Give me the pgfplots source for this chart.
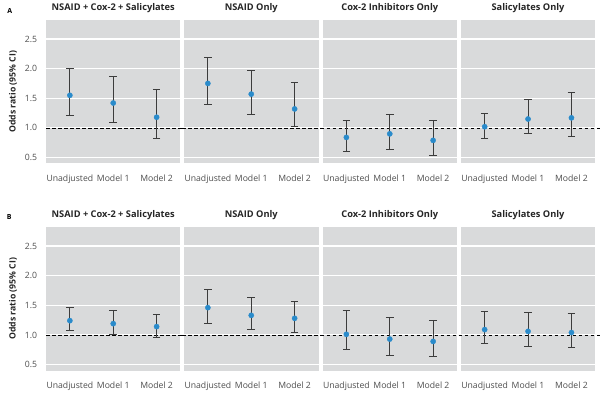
\documentclass[border=0pt]{standalone}
\usepackage{fontspec}
\setmainfont{Open Sans}
\usepackage{pgfplots}
\usepackage{pgfplotstable}
\pgfplotsset{compat=1.18}
\definecolor{panelgray}{HTML}{D9DADB}
\definecolor{dotblue}{HTML}{2A8BCB}
\definecolor{errgray}{HTML}{3C3C3C}
\definecolor{ticklab}{HTML}{4D4D4D}

% Row A
\pgfplotstableread{
x y lo hi
1 1.55 1.21 2.01
2 1.42 1.10 1.86
3 1.18 0.83 1.65
}\tAa
\pgfplotstableread{
x y lo hi
1 1.75 1.40 2.19
2 1.57 1.23 1.97
3 1.32 1.03 1.77
}\tAb
\pgfplotstableread{
x y lo hi
1 0.84 0.61 1.12
2 0.90 0.645 1.22
3 0.79 0.54 1.12
}\tAc
\pgfplotstableread{
x y lo hi
1 1.02 0.83 1.25
2 1.15 0.91 1.48
3 1.17 0.86 1.59
}\tAd
% Row B
\pgfplotstableread{
x y lo hi
1 1.24 1.07 1.46
2 1.19 1.00 1.41
3 1.14 0.955 1.35
}\tBa
\pgfplotstableread{
x y lo hi
1 1.46 1.20 1.77
2 1.33 1.09 1.64
3 1.28 1.04 1.56
}\tBb
\pgfplotstableread{
x y lo hi
1 1.01 0.75 1.41
2 0.93 0.66 1.29
3 0.89 0.63 1.24
}\tBc
\pgfplotstableread{
x y lo hi
1 1.09 0.86 1.39
2 1.06 0.81 1.38
3 1.04 0.79 1.36
}\tBd

\pgfplotsset{
  panel/.style={
    scale only axis, width=134.5bp, height=143.5bp, anchor=south west,
    xmin=0.45, xmax=3.55, ymin=0.4, ymax=2.82,
    axis background/.style={fill=panelgray},
    axis line style={draw=none},
    major tick length=0pt,
    xtick={1,2,3}, xticklabels={Unadjusted,Model 1,Model 2},
    ytick={0.5,1,1.5,2,2.5},
    /pgf/number format/assume math mode=true,
    y tick label style={/pgf/number format/.cd, fixed, fixed zerofill, precision=1, /tikz/.cd},
    ymajorgrids, grid style={white, line width=1.1pt},
    tick label style={font=\fontsize{8.7}{10}\selectfont, text=ticklab},
    xticklabel style={anchor=base, inner sep=0pt, yshift=-18.3bp},
    yticklabel style={anchor=east, inner sep=0pt, xshift=-8.7bp},
    title style={font=\bfseries\fontsize{9.3}{10}\selectfont, text=black!85, anchor=base, at={(0.5,1)}, inner sep=0pt, yshift=3.3bp},
    label style={font=\bfseries\fontsize{8.7}{10}\selectfont, text=black!85},
    ylabel style={at={(axis description cs:-0.245,0.5)}, anchor=center},
    clip=false,
  },
  noylab/.style={yticklabels={}},
  ci/.style={only marks, mark=*, mark size=2.6bp, color=dotblue,
    error bars/.cd, y dir=both, y explicit,
    error bar style={errgray, line width=0.9pt},
    error mark options={rotate=90, errgray, line width=0.9pt, mark size=3.8bp}},
}
\newcommand{\ciplot}[1]{\addplot[ci] table[x=x, y=y, y error plus expr=\thisrow{hi}-\thisrow{y}, y error minus expr=\thisrow{y}-\thisrow{lo}] {#1};}
\newcommand{\refline}[2]{\draw[black, line width=0.7pt, dash pattern=on 3.5bp off 2.5bp] ([xshift=-#1]axis cs:0.45,1) -- ([xshift=#2]axis cs:3.55,1);}

\begin{document}
\begin{tikzpicture}
\useasboundingbox (0,0) rectangle (600bp,400bp);
\node[font=\bfseries\fontsize{7}{8}\selectfont] at (9.7bp,389.3bp) {A};
\node[font=\bfseries\fontsize{7}{8}\selectfont] at (9.3bp,182.8bp) {B};

% Row A
\begin{axis}[panel, at={(46bp,236.5bp)}, title={NSAID + Cox-2 + Salicylates}, ylabel={Odds ratio (95\% CI)}]
\refline{0bp}{2bp}
\ciplot{\tAa}
\end{axis}
\begin{axis}[panel, noylab, at={(184bp,236.5bp)}, title={NSAID Only}]
\refline{2bp}{2bp}
\ciplot{\tAb}
\end{axis}
\begin{axis}[panel, noylab, at={(322.5bp,236.5bp)}, title={Cox-2 Inhibitors Only}]
\refline{2bp}{2bp}
\ciplot{\tAc}
\end{axis}
\begin{axis}[panel, noylab, at={(460.8bp,236.5bp)}, title={Salicylates Only}]
\refline{2bp}{5bp}
\ciplot{\tAd}
\end{axis}

% Row B
\begin{axis}[panel, at={(46bp,29.5bp)}, title={NSAID + Cox-2 + Salicylates}, ylabel={Odds ratio (95\% CI)}]
\refline{0bp}{2bp}
\ciplot{\tBa}
\end{axis}
\begin{axis}[panel, noylab, at={(184bp,29.5bp)}, title={NSAID Only}]
\refline{2bp}{2bp}
\ciplot{\tBb}
\end{axis}
\begin{axis}[panel, noylab, at={(322.5bp,29.5bp)}, title={Cox-2 Inhibitors Only}]
\refline{2bp}{2bp}
\ciplot{\tBc}
\end{axis}
\begin{axis}[panel, noylab, at={(460.8bp,29.5bp)}, title={Salicylates Only}]
\refline{2bp}{5bp}
\ciplot{\tBd}
\end{axis}
\end{tikzpicture}
\end{document}
